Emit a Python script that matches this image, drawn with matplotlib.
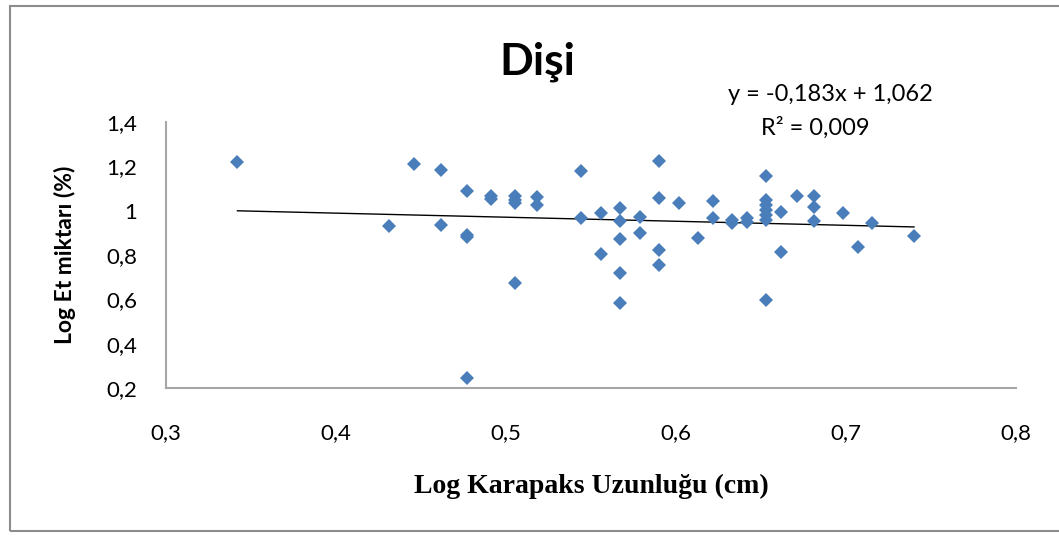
import matplotlib
matplotlib.use("Agg")
import matplotlib.pyplot as plt
from matplotlib.patches import Rectangle
import numpy as np

# Log carapace length (x) and log meat yield (y)
log_karapaks = [0.342, 0.431, 0.446, 0.462, 0.462, 0.477, 0.477, 0.477, 0.477,
                0.491, 0.491, 0.505, 0.505, 0.505, 0.505, 0.518, 0.518,
                0.544, 0.544, 0.556, 0.556, 0.567, 0.567, 0.567, 0.567, 0.567,
                0.579, 0.579, 0.590, 0.590, 0.590, 0.590, 0.602, 0.613,
                0.622, 0.622, 0.633, 0.633, 0.642, 0.642,
                0.653, 0.653, 0.653, 0.653, 0.653, 0.653, 0.653,
                0.662, 0.662, 0.671, 0.681, 0.681, 0.681, 0.698, 0.707, 0.715, 0.740]
log_et = [1.221, 0.929, 1.210, 1.183, 0.935, 1.090, 0.890, 0.883, 0.244,
          1.066, 1.051, 1.066, 1.048, 1.033, 0.672, 1.060, 1.025,
          1.179, 0.965, 0.990, 0.804, 1.010, 0.953, 0.871, 0.720, 0.585,
          0.973, 0.900, 1.225, 1.055, 0.822, 0.755, 1.036, 0.877,
          1.045, 0.968, 0.958, 0.943, 0.965, 0.950,
          1.156, 1.048, 1.025, 1.003, 0.980, 0.958, 0.597,
          0.995, 0.815, 1.064, 1.064, 1.018, 0.955, 0.988, 0.835, 0.943, 0.887]

# trendline as given on the chart
egim = -0.183
kesisim = 1.062
r2 = 0.009

x_ticks = [0.3, 0.4, 0.5, 0.6, 0.7, 0.8]
y_ticks = [0.2, 0.4, 0.6, 0.8, 1.0, 1.2, 1.4]


def virgul(v):
    s = ("%g" % v).replace(".", ",")
    return s


fig = plt.figure(figsize=(10.59, 5.36), dpi=100)
ax = fig.add_axes([0.1568, 0.2761, 0.8026, 0.4963])

ax.plot(log_karapaks, log_et, linestyle="none", marker="D", markersize=7,
        color="#4A7EBB", markeredgewidth=0, zorder=3)

xl = np.array([min(log_karapaks), max(log_karapaks)])
ax.plot(xl, egim * xl + kesisim, color="black", linewidth=1, zorder=2)

ax.set_xlim(0.3, 0.8)
ax.set_ylim(0.2, 1.4)
ax.set_xticks(x_ticks)
ax.set_yticks(y_ticks)
ax.set_xticklabels([virgul(v) for v in x_ticks])
ax.set_yticklabels([virgul(v) for v in y_ticks])
ax.tick_params(axis="both", length=0, labelsize=16, colors="black")
ax.tick_params(axis="x", pad=25)
ax.tick_params(axis="y", pad=21)
for lbl in ax.get_xticklabels() + ax.get_yticklabels():
    lbl.set_family("Lato")

for side in ["top", "right"]:
    ax.spines[side].set_visible(False)
for side in ["left", "bottom"]:
    ax.spines[side].set_color("#A6A6A6")
    ax.spines[side].set_linewidth(1.5)

fig.text(0.507, 0.885, "Dişi", ha="center", va="center", fontsize=32,
         fontweight="bold", family="Lato")
fig.text(0.061, 0.525, "Log Et miktarı (%)", ha="center", va="center",
         rotation=90, fontsize=16.5, fontweight="bold", family="Lato")
fig.text(0.558, 0.092, "Log Karapaks Uzunluğu (cm)", ha="center", va="center",
         fontsize=20, fontweight="bold", family="Liberation Serif")

fig.text(0.784, 0.823, "y = -0,183x + 1,062", ha="center", va="center",
         fontsize=17, family="Lato")
fig.text(0.77, 0.761, "R² = 0,009", ha="center", va="center",
         fontsize=17, family="Lato")

fig.patches.append(Rectangle((0.0095, 0.009), 1.0, 0.98, transform=fig.transFigure,
                             fill=False, edgecolor="#8C8C8C", linewidth=1.5))

fig.savefig("out.png", dpi=100)
